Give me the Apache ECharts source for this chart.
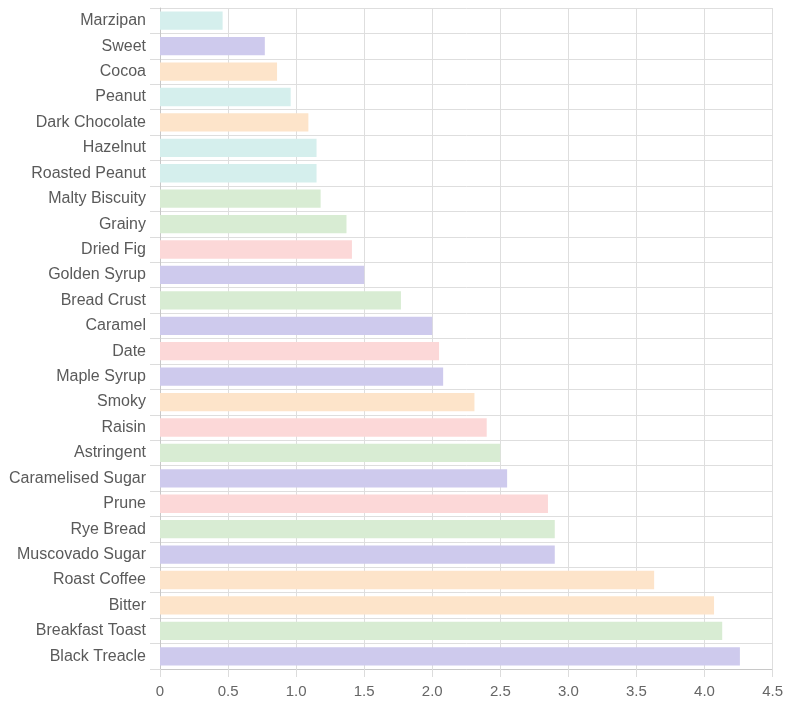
<!DOCTYPE html>
<html>
<head>
<meta charset="utf-8">
<script src="https://cdn.jsdelivr.net/npm/echarts@6/dist/echarts.min.js"></script>
<style>
html,body{margin:0;padding:0;background:#fff;}
#chart{width:786px;height:706px;}
</style>
</head>
<body>
<div id="chart"></div>
<script>
// Categories top to bottom
var categories = ['Marzipan','Sweet','Cocoa','Peanut','Dark Chocolate','Hazelnut','Roasted Peanut','Malty Biscuity','Grainy','Dried Fig','Golden Syrup','Bread Crust','Caramel','Date','Maple Syrup','Smoky','Raisin','Astringent','Caramelised Sugar','Prune','Rye Bread','Muscovado Sugar','Roast Coffee','Bitter','Breakfast Toast','Black Treacle'];
var values = [0.46,0.77,0.86,0.96,1.09,1.15,1.15,1.18,1.37,1.41,1.50,1.77,2.00,2.05,2.08,2.31,2.40,2.50,2.55,2.85,2.90,2.90,3.63,4.07,4.13,4.26];
var groups = ['nutty','sugary','roasted','nutty','roasted','nutty','nutty','cereal','cereal','fruity','sugary','cereal','sugary','fruity','sugary','roasted','fruity','cereal','sugary','fruity','cereal','sugary','roasted','roasted','cereal','sugary'];
var xTicks = [0,0.5,1,1.5,2,2.5,3,3.5,4,4.5];

var palette = {
  nutty: '#d5efed',
  sugary: '#cecaed',
  roasted: '#fde4ca',
  cereal: '#d8ecd3',
  fruity: '#fcd8d8'
};

var font = 'Liberation Sans, Arial, sans-serif';
var chart = echarts.init(document.getElementById('chart'));
chart.setOption({
  animation: false,
  grid: {left: 160, right: 12, top: 8, bottom: 37, containLabel: false},
  xAxis: {
    type: 'value', min: xTicks[0], max: xTicks[xTicks.length-1], interval: 0.5,
    axisLine: {show: true, lineStyle: {color: '#c8c8c8'}},
    axisTick: {show: true, length: 8, lineStyle: {color: '#dcdcdc'}},
    axisLabel: {color: '#666', fontSize: 15, fontFamily: font, margin: 15,
      formatter: function(v){ return v === 0 ? '0' : v.toFixed(1); }},
    splitLine: {show: true, lineStyle: {color: '#dedede'}}
  },
  yAxis: {
    type: 'category', data: categories, inverse: true,
    axisLine: {show: true, lineStyle: {color: '#c8c8c8'}},
    axisTick: {show: true, length: 10, lineStyle: {color: '#dcdcdc'}},
    axisLabel: {color: '#5a5a5a', fontSize: 16, fontFamily: font, margin: 14},
    splitLine: {show: true, lineStyle: {color: '#dedede'}}
  },
  series: [{
    type: 'bar',
    barCategoryGap: '28%',
    data: values.map(function(v, i){
      return {value: v, itemStyle: {color: palette[groups[i]]}};
    })
  }]
});
</script>
</body>
</html>
